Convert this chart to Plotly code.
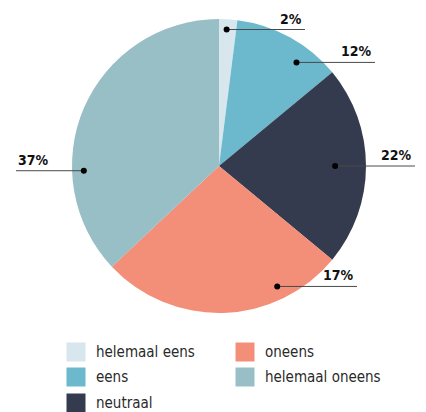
import math
import plotly.graph_objects as go

# ---- data ----
categories = ["helemaal eens", "eens", "neutraal", "oneens", "helemaal oneens"]
slice_values = [2, 12, 22, 27, 37]          # slice sizes
label_texts = ["2%", "12%", "22%", "17%", "37%"]  # labels as printed
colors = ["#d8e7ee", "#6cb8cc", "#353b4e", "#f38e78", "#98bec6"]

# ---- layout constants (pixels) ----
W, H = 426, 412
CX, CY, R = 219, 166, 147
dot_angle = [3.2, 36.8, 90.0, 154.2, 268.0]   # degrees clockwise from 12 o'clock
dot_rfrac = [0.93, 0.88, 0.79, 0.91, 0.92]
line_end_x = [305, 375, 415, 357, 16]
DOT_R = 3
FONT = "DejaVu Sans Condensed, Liberation Sans Narrow, Arial Narrow, sans-serif"
label_font = dict(family=FONT, size=14, color="#111111")
legend_font = dict(family=FONT, size=15, color="#2a2a2a")

fig = go.Figure()
fig.add_trace(go.Pie(
    labels=categories, values=slice_values, sort=False, direction="clockwise",
    rotation=0, marker=dict(colors=colors, line=dict(width=0)),
    textinfo="none", hoverinfo="label+percent", showlegend=False,
    domain=dict(x=[(CX - R) / W, (CX + R) / W], y=[(H - CY - R) / H, (H - CY + R) / H]),
))

# leader lines + dots (shapes, so they sit above the pie)
shapes, annotations = [], []
for a, rf, ex, txt in zip(dot_angle, dot_rfrac, line_end_x, label_texts):
    t = math.radians(a)
    px = CX + rf * R * math.sin(t)
    py = CY - rf * R * math.cos(t)
    shapes.append(dict(type="line", xref="x", yref="y", x0=px, y0=py, x1=ex, y1=py,
                       line=dict(color="#4a4a4a", width=1), layer="above"))
    shapes.append(dict(type="circle", xref="x", yref="y", x0=px - DOT_R, x1=px + DOT_R,
                       y0=py - DOT_R, y1=py + DOT_R, fillcolor="#000000",
                       line=dict(width=0), layer="above"))
    right = ex > px
    annotations.append(dict(
        x=ex, y=py - 11, xref="x", yref="y", text="<b>%s</b>" % txt, showarrow=False,
        xanchor="right" if right else "left", yanchor="middle", font=label_font,
        xshift=-1 if right else 0))

# custom legend (column-major, 3 rows)
leg_col_x = [76, 245]
leg_row_y = [352, 377, 403]
sx, sy = [], []
for i, (cat, col) in enumerate(zip(categories, colors)):
    c, r = divmod(i, 3)
    x0, y0 = leg_col_x[c], leg_row_y[r]
    sx.append(x0); sy.append(y0)
    annotations.append(dict(x=x0 + 18, y=y0, xref="x", yref="y", text=cat, showarrow=False,
                            xanchor="left", yanchor="middle", font=legend_font))
fig.add_trace(go.Scatter(x=sx, y=sy, mode="markers",
                         marker=dict(symbol="square", size=19, color=colors, line=dict(width=0)),
                         hoverinfo="skip", showlegend=False))

fig.update_layout(
    width=W, height=H, margin=dict(l=0, r=0, t=0, b=0),
    paper_bgcolor="white", plot_bgcolor="rgba(0,0,0,0)",
    xaxis=dict(range=[0, W], visible=False, fixedrange=True),
    yaxis=dict(range=[H, 0], visible=False, fixedrange=True),
    shapes=shapes, annotations=annotations, showlegend=False,
)
fig.write_html("out.html", config={"displayModeBar": False},
               post_script="document.body.style.margin='0';document.body.style.overflow='hidden';")
